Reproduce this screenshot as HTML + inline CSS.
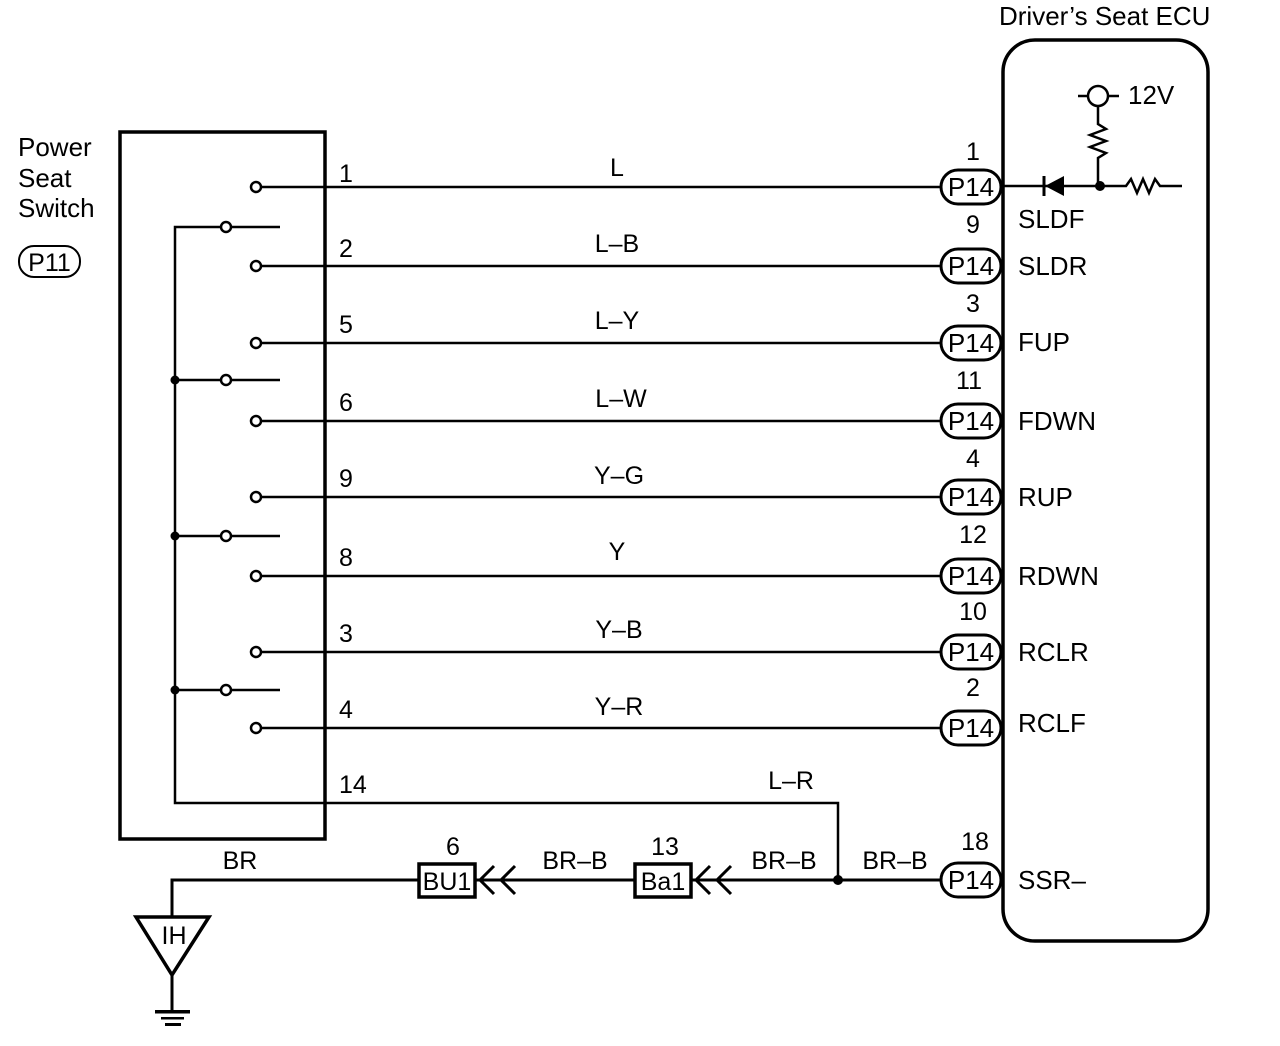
<!DOCTYPE html>
<html><head><meta charset="utf-8"><style>
html,body{margin:0;padding:0;background:#fff;}
svg{display:block;}
text{font-family:"Liberation Sans",Arial,sans-serif;fill:#000;}
</style></head><body>
<svg width="1280" height="1046" viewBox="0 0 1280 1046" xmlns="http://www.w3.org/2000/svg">
<g font-size="26">
<text x="18" y="156">Power</text>
<text x="18" y="187">Seat</text>
<text x="18" y="217">Switch</text>
<text x="999" y="25">Driver’s Seat ECU</text>
</g>
<rect x="19" y="246" width="61" height="31" rx="15" fill="none" stroke="#000" stroke-width="2"/>
<text x="49.5" y="271" font-size="25" text-anchor="middle">P11</text>

<rect x="120" y="132" width="205" height="707" fill="none" stroke="#000" stroke-width="3.5"/>
<rect x="1003" y="40" width="205" height="901" rx="32" fill="none" stroke="#000" stroke-width="3.5"/>

<g stroke="#000" stroke-width="2.5" fill="none">
<polyline points="226,227 175,227 175,803 838,803 838,880"/>
<line x1="231" y1="227" x2="280" y2="227"/>
<line x1="175" y1="380" x2="280" y2="380"/>
<line x1="175" y1="536" x2="280" y2="536"/>
<line x1="175" y1="690" x2="280" y2="690"/>
</g>
<g fill="#fff" stroke="#000" stroke-width="2.5">
<circle cx="226" cy="227" r="5"/><circle cx="226" cy="380" r="5"/><circle cx="226" cy="536" r="5"/><circle cx="226" cy="690" r="5"/>
</g>
<g fill="#000"><circle cx="175" cy="380" r="4.5"/><circle cx="175" cy="536" r="4.5"/><circle cx="175" cy="690" r="4.5"/><circle cx="838" cy="880" r="5"/><circle cx="1100" cy="186" r="5"/></g>

<g stroke="#000" stroke-width="2.5" fill="none">
<line x1="261" y1="187" x2="942" y2="187"/>
<line x1="261" y1="266" x2="942" y2="266"/>
<line x1="261" y1="343" x2="942" y2="343"/>
<line x1="261" y1="421" x2="942" y2="421"/>
<line x1="261" y1="497" x2="942" y2="497"/>
<line x1="261" y1="576" x2="942" y2="576"/>
<line x1="261" y1="652" x2="942" y2="652"/>
<line x1="261" y1="728" x2="942" y2="728"/>
</g>
<g fill="#fff" stroke="#000" stroke-width="2.5">
<circle cx="256" cy="187" r="5"/><circle cx="256" cy="266" r="5"/><circle cx="256" cy="343" r="5"/><circle cx="256" cy="421" r="5"/>
<circle cx="256" cy="497" r="5"/><circle cx="256" cy="576" r="5"/><circle cx="256" cy="652" r="5"/><circle cx="256" cy="728" r="5"/>
</g>
<g font-size="25">
<text x="339" y="182">1</text><text x="339" y="257">2</text><text x="339" y="333">5</text><text x="339" y="411">6</text>
<text x="339" y="487">9</text><text x="339" y="566">8</text><text x="339" y="642">3</text><text x="339" y="718">4</text>
<text x="339" y="793">14</text>
</g>
<g font-size="25" text-anchor="middle">
<text x="617" y="176">L</text><text x="617" y="252">L–B</text><text x="617" y="329">L–Y</text><text x="621" y="407">L–W</text>
<text x="619" y="484">Y–G</text><text x="617" y="560">Y</text><text x="619" y="638">Y–B</text><text x="619" y="715">Y–R</text>
<text x="791" y="789">L–R</text>
<text x="973" y="160">1</text><text x="973" y="233">9</text><text x="973" y="312">3</text><text x="969" y="389">11</text>
<text x="973" y="467">4</text><text x="973" y="543">12</text><text x="973" y="620">10</text><text x="973" y="696">2</text>
<text x="975" y="850">18</text>
<text x="453" y="855">6</text><text x="665" y="855">13</text>
<text x="240" y="869">BR</text><text x="575" y="869">BR–B</text><text x="784" y="869">BR–B</text><text x="895" y="869">BR–B</text>
</g>
<g>
<g transform="translate(0,187)"><rect x="941" y="-17" width="60" height="34" rx="17" fill="#fff" stroke="#000" stroke-width="3"/><text x="971" y="9" font-size="26" text-anchor="middle">P14</text></g>
<g transform="translate(0,266)"><rect x="941" y="-17" width="60" height="34" rx="17" fill="#fff" stroke="#000" stroke-width="3"/><text x="971" y="9" font-size="26" text-anchor="middle">P14</text></g>
<g transform="translate(0,343)"><rect x="941" y="-17" width="60" height="34" rx="17" fill="#fff" stroke="#000" stroke-width="3"/><text x="971" y="9" font-size="26" text-anchor="middle">P14</text></g>
<g transform="translate(0,421)"><rect x="941" y="-17" width="60" height="34" rx="17" fill="#fff" stroke="#000" stroke-width="3"/><text x="971" y="9" font-size="26" text-anchor="middle">P14</text></g>
<g transform="translate(0,497)"><rect x="941" y="-17" width="60" height="34" rx="17" fill="#fff" stroke="#000" stroke-width="3"/><text x="971" y="9" font-size="26" text-anchor="middle">P14</text></g>
<g transform="translate(0,576)"><rect x="941" y="-17" width="60" height="34" rx="17" fill="#fff" stroke="#000" stroke-width="3"/><text x="971" y="9" font-size="26" text-anchor="middle">P14</text></g>
<g transform="translate(0,652)"><rect x="941" y="-17" width="60" height="34" rx="17" fill="#fff" stroke="#000" stroke-width="3"/><text x="971" y="9" font-size="26" text-anchor="middle">P14</text></g>
<g transform="translate(0,728)"><rect x="941" y="-17" width="60" height="34" rx="17" fill="#fff" stroke="#000" stroke-width="3"/><text x="971" y="9" font-size="26" text-anchor="middle">P14</text></g>
<g transform="translate(0,880)"><rect x="941" y="-17" width="60" height="34" rx="17" fill="#fff" stroke="#000" stroke-width="3"/><text x="971" y="9" font-size="26" text-anchor="middle">P14</text></g>
</g>
<g font-size="26">
<text x="1018" y="228">SLDF</text><text x="1018" y="275">SLDR</text><text x="1018" y="351">FUP</text><text x="1018" y="430">FDWN</text>
<text x="1018" y="506">RUP</text><text x="1018" y="585">RDWN</text><text x="1018" y="661">RCLR</text><text x="1018" y="732">RCLF</text>
<text x="1018" y="889">SSR–</text>
<text x="1128" y="104">12V</text>
</g>
<g stroke="#000" stroke-width="2.5" fill="none">
<line x1="1001" y1="186" x2="1120" y2="186"/>
<line x1="1078" y1="96" x2="1119" y2="96"/>
<circle cx="1098" cy="96" r="10" fill="#fff"/>
<polyline points="1098,106 1098,124 1106,129 1090,135 1106,141 1090,147 1106,153 1098,158 1098,186"/>
<polyline points="1120,186 1126,186 1131,179 1137,193 1143,179 1149,193 1155,179 1160,186 1182,186"/>
<line x1="1044" y1="176" x2="1044" y2="196" stroke-width="3"/>
</g>
<polygon points="1045,186 1064,176 1064,196" fill="#000"/>
<g stroke="#000" stroke-width="3" fill="none">
<polyline points="420,880 172,880 172,917"/>
<line x1="476" y1="880" x2="941" y2="880"/>
<polyline points="494,866 480,880 494,894"/>
<polyline points="515,866 501,880 515,894"/>
<polyline points="710,866 696,880 710,894"/>
<polyline points="731,866 717,880 731,894"/>
<line x1="172" y1="975" x2="172" y2="1010"/>
</g>
<rect x="419" y="864" width="56" height="33" fill="#fff" stroke="#000" stroke-width="3.5"/>
<text x="447" y="890" font-size="25" text-anchor="middle">BU1</text>
<rect x="635" y="864" width="56" height="33" fill="#fff" stroke="#000" stroke-width="3.5"/>
<text x="663" y="890" font-size="25" text-anchor="middle">Ba1</text>
<polygon points="136,917 209,917 172,975" fill="#fff" stroke="#000" stroke-width="3.5"/>
<text x="174" y="944" font-size="25" text-anchor="middle">IH</text>
<rect x="155" y="1010" width="35" height="3.5" fill="#000"/>
<rect x="161" y="1017" width="23" height="2.5" fill="#000"/>
<rect x="165" y="1023" width="16" height="3" fill="#000"/>
</svg>
</body></html>
